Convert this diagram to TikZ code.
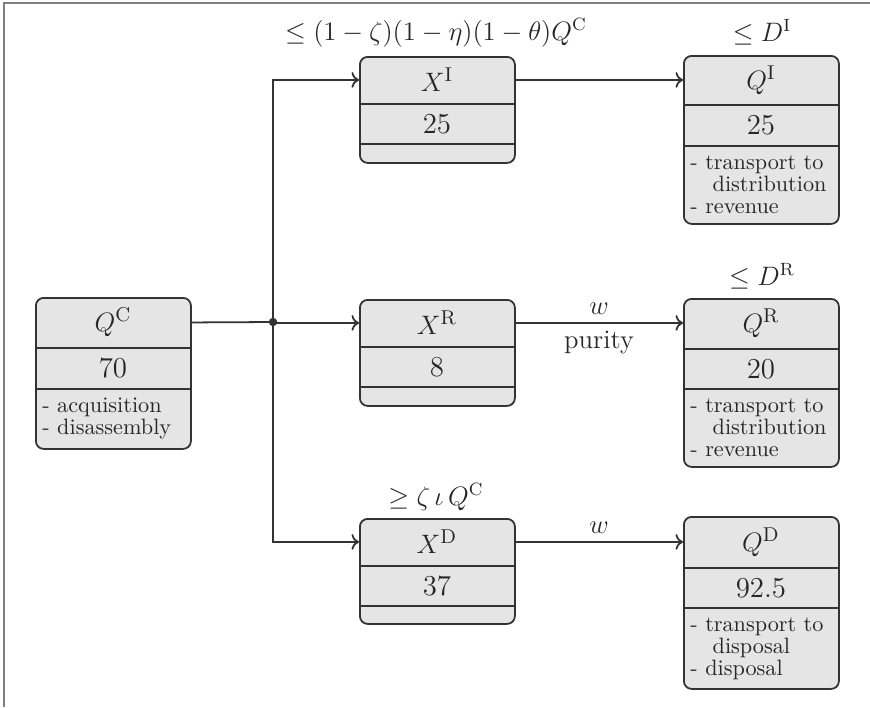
\documentclass[tikz,border=0pt]{standalone}
\usetikzlibrary{arrows.meta}
\tikzset{
  box/.style={draw=black!80, fill=black!10, line width=0.8pt, rounded corners=3.5pt, inner sep=0pt, minimum width=69.75pt, anchor=north west},
  row/.style={inner sep=0pt, minimum width=69.75pt, anchor=north west, font=\fontsize{13}{15}\selectfont, text=black!85},
  div/.style={draw=black!80, line width=0.8pt},
  txt/.style={inner sep=0pt, anchor=north west, align=left, font=\fontsize{10}{10}\selectfont, text=black!85},
  conn/.style={draw=black!80, line width=0.8pt},
  arr/.style={conn, ->},
  lbl/.style={font=\large, text=black!85},
}
\newcommand\mkbox[9]{%
  \node[box, minimum height={(#4-(#3))*0.45pt}] (#1) at (#2,#3) {};
  \node[row, minimum height={#8*0.45pt}] (#1h) at (#2,#3) {#5};
  \node[row, minimum height={#9*0.45pt}] (#1v) at (#1h.south west) {#6};
  \draw[div] (#1h.south west) -- ++(156.5,0);
  \draw[div] (#1v.south west) -- ++(156.5,0);
  \node[txt] (#1t) at ([shift={(7,7.5)}]#1v.south west) {#7};
}
\begin{document}
\begin{tikzpicture}[x=0.45pt, y=-0.45pt]
\useasboundingbox (0,0) rectangle (870,707);
\draw[gray, line width=0.7pt] (4,707) -- (4,3) -- (870,3);

\mkbox{qc}{35}{297}{448}{$Q^{\mathrm{C}}$}{70}{\rule{0pt}{7pt}- acquisition\\- disassembly}{50}{40}
\mkbox{xi}{359}{56}{162}{$X^{\mathrm{I}}$}{25}{}{47}{39}
\mkbox{xr}{359}{299}{405}{$X^{\mathrm{R}}$}{8}{}{47}{39}
\mkbox{xd}{359}{518}{623}{$X^{\mathrm{D}}$}{37}{}{47}{39}
\mkbox{qi}{683}{55}{223}{$Q^{\mathrm{I}}$}{25}{\rule{0pt}{7pt}- transport to\\\hspace*{10pt}distribution\\- revenue}{49}{40}
\mkbox{qr}{683}{298}{466}{$Q^{\mathrm{R}}$}{20}{\rule{0pt}{7pt}- transport to\\\hspace*{10pt}distribution\\- revenue}{50}{39}
\mkbox{qd}{683}{516}{688}{$Q^{\mathrm{D}}$}{92.5}{\rule{0pt}{7pt}- transport to\\\hspace*{10pt}disposal\\- disposal}{51}{39}

\coordinate (j) at (273,322);
\draw[conn] (qch.east) -- (j);
\fill[black!80] (j) circle (1.9pt);
\draw[arr] (j) |- (xih.west);
\draw[arr] (j) |- (xrh.west);
\draw[arr] (j) |- (xdh.west);
\draw[arr] (xih.east) -- (xih.east -| qih.west);
\draw[arr] (xrh.east) -- node[lbl, above] (w1) {$w$} node[lbl, below] (pur) {purity} (xrh.east -| qrh.west);
\draw[arr] (xdh.east) -- node[lbl, above] (w2) {$w$} (xdh.east -| qdh.west);

\node[lbl] (l1) at (436,33) {$\le(1-\zeta)(1-\eta)(1-\theta)Q^{\mathrm{C}}$};
\node[lbl] (l2) at (762,32) {$\le D^{\mathrm{I}}$};
\node[lbl] (l3) at (762,276) {$\le D^{\mathrm{R}}$};
\node[lbl] (l4) at (436,497) {$\ge \zeta\,\iota\,Q^{\mathrm{C}}$};
\end{tikzpicture}
\end{document}
